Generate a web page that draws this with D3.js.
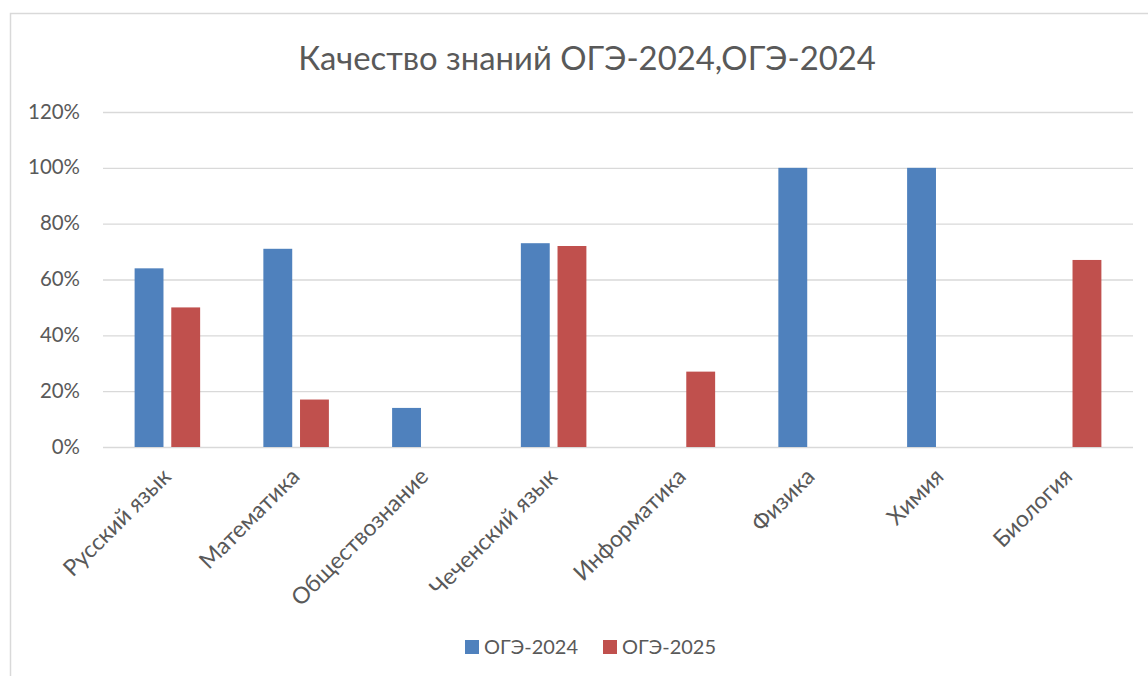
<!DOCTYPE html>
<html>
<head>
<meta charset="utf-8">
<script src="https://cdn.jsdelivr.net/npm/d3@7"></script>
<style>
  html, body { margin: 0; padding: 0; background: #fff; }
  svg { display: block; }
</style>
</head>
<body>
<svg id="chart" width="1148" height="676"></svg>
<script>
// ---- data ----
const categories = ["Русский язык", "Математика", "Обществознание", "Чеченский язык", "Информатика", "Физика", "Химия", "Биология"];
const seriesNames = ["ОГЭ-2024", "ОГЭ-2025"];
const oge2024 = [0.64, 0.71, 0.14, 0.73, null, 1.00, 1.00, null];
const oge2025 = [0.50, 0.17, null, 0.72, 0.27, null, null, 0.67];
const yTicks = [0, 0.2, 0.4, 0.6, 0.8, 1.0, 1.2];
const titleText = "Качество знаний ОГЭ-2024,ОГЭ-2024";

// ---- style ----
const colors = ["#4F81BD", "#C0504D"];
const FONT = "Lato, 'Open Sans', sans-serif";
const TEXT = "#595959";
const GRID = "#d9d9d9";

const svg = d3.select("#chart");

// helper: font size so the string reaches a target width
function fitSize(str, target) {
  const t = svg.append("text").attr("font-family", FONT).attr("font-size", 100).text(str);
  const w = t.node().getComputedTextLength();
  t.remove();
  return 100 * target / w;
}

// chart border
svg.append("rect")
  .attr("x", 10.5).attr("y", 13.5)
  .attr("width", 1200).attr("height", 800)
  .attr("fill", "none").attr("stroke", GRID).attr("stroke-width", 1.5);

const plotL = 103, plotR = 1133, plotT = 112, plotB = 447;

const x0 = d3.scaleBand().domain(categories).range([plotL, plotR]).padding(0);
const y = d3.scaleLinear().domain([0, 1.2]).range([plotB, plotT]);

const slot = x0.bandwidth();
const barW = slot / (2 + 0.27 + 2.19);
const gapIn = barW * 0.27;
const x1 = d3.scaleBand().domain(seriesNames)
  .range([slot / 2 - barW - gapIn / 2, slot / 2 + barW + gapIn / 2])
  .paddingInner(gapIn / (barW + gapIn));

// gridlines
const yAxis = d3.axisLeft(y).tickValues(yTicks).tickSize(-(plotR - plotL)).tickFormat(d3.format(".0%")).tickPadding(23);
const gy = svg.append("g").attr("transform", `translate(${plotL},0)`).call(yAxis);
gy.select(".domain").remove();
gy.selectAll(".tick line").attr("stroke", GRID).attr("stroke-width", 1.3);
const tickSize = fitSize("120%", 52);
gy.selectAll(".tick text")
  .attr("font-family", FONT).attr("font-size", tickSize).attr("fill", TEXT)
  .attr("dy", "0.3em").attr("x", -23);

// bars
const data = [oge2024, oge2025];
seriesNames.forEach((s, si) => {
  svg.append("g").selectAll("rect")
    .data(categories.map((c, i) => ({ c, v: data[si][i] })).filter(d => d.v != null))
    .join("rect")
    .attr("x", d => x0(d.c) + x1(s))
    .attr("width", x1.bandwidth())
    .attr("y", d => y(d.v))
    .attr("height", d => y(0) - y(d.v))
    .attr("fill", colors[si]);
});

// category labels
const catSize = fitSize("Русский язык", 141);
svg.append("g").selectAll("text")
  .data(categories)
  .join("text")
  .attr("transform", d => `translate(${x0(d) + slot / 2 + 5},${plotB + 31}) rotate(-45)`)
  .attr("text-anchor", "end")
  .attr("font-family", FONT).attr("font-size", catSize).attr("fill", TEXT)
  .text(d => d);

// title
const titleSize = fitSize(titleText, 578);
svg.append("text")
  .attr("x", 587).attr("y", 70)
  .attr("text-anchor", "middle")
  .attr("font-family", FONT).attr("font-size", titleSize).attr("fill", TEXT)
  .text(titleText);

// legend
const legSize = fitSize("ОГЭ-2024", 94);
const legX = [465, 603];
const leg = svg.append("g");
seriesNames.forEach((s, i) => {
  leg.append("rect").attr("x", legX[i]).attr("y", 640).attr("width", 14).attr("height", 14).attr("fill", colors[i]);
  leg.append("text").attr("x", legX[i] + 19).attr("y", 654)
    .attr("font-family", FONT).attr("font-size", legSize).attr("fill", TEXT).text(s);
});
</script>
</body>
</html>
